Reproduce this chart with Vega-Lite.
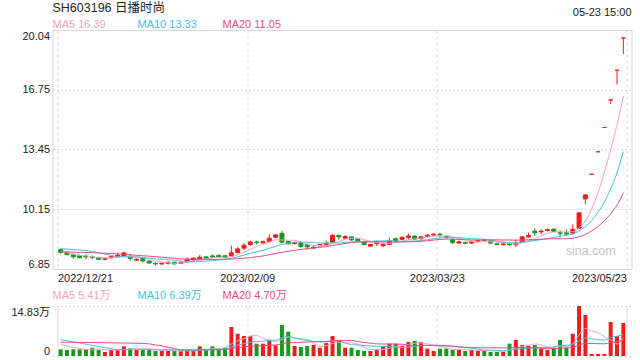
{
  "$schema": "https://vega.github.io/schema/vega-lite/v6.json",
  "autosize": {"type": "pad"},
  "padding": {"left": 10.5, "top": 2, "right": 5.5, "bottom": 5},
  "background": "white",
  "spacing": 0,
  "bounds": "flush",
  "config": {
    "font": "Liberation Sans, Noto Sans CJK SC, sans-serif",
    "view": {"stroke": null},
    "axis": {"labelFont": "Liberation Sans, Noto Sans CJK SC, sans-serif", "labelFontSize": 11, "labelColor": "#222222", "ticks": false, "domain": false, "title": null, "gridColor": "#d9d9d9", "labelPadding": 3},
    "title": {"font": "Liberation Sans, Noto Sans CJK SC, sans-serif", "fontWeight": "normal"},
    "text": {"font": "Liberation Sans, Noto Sans CJK SC, sans-serif"}
  },
  "datasets": {
    "k": [
      {"i":0,"o":7.92,"c":7.76,"h":7.98,"l":7.70,"v":1.98,"m5":7.84,"m10":7.97,"m20":7.80,"vm5":3.4,"vm10":4.9,"vm20":4.1},
      {"i":1,"o":7.77,"c":7.64,"h":7.82,"l":7.60,"v":1.78,"m5":7.75,"m10":7.95,"m20":7.79,"vm5":3.0,"vm10":4.55,"vm20":4.08},
      {"i":2,"o":7.66,"c":7.52,"h":7.70,"l":7.42,"v":1.98,"m5":7.66,"m10":7.92,"m20":7.78,"vm5":2.6,"vm10":4.2,"vm20":4.06},
      {"i":3,"o":7.60,"c":7.47,"h":7.63,"l":7.45,"v":1.98,"m5":7.60,"m10":7.90,"m20":7.77,"vm5":2.2,"vm10":3.85,"vm20":4.04},
      {"i":4,"o":7.56,"c":7.52,"h":7.66,"l":7.38,"v":1.98,"m5":7.58,"m10":7.87,"m20":7.76,"vm5":1.94,"vm10":3.5,"vm20":4.02},
      {"i":5,"o":7.52,"c":7.48,"h":7.60,"l":7.38,"v":2.47,"m5":7.53,"m10":7.82,"m20":7.75,"vm5":2.04,"vm10":3.15,"vm20":4.0},
      {"i":6,"o":7.48,"c":7.37,"h":7.50,"l":7.35,"v":1.78,"m5":7.47,"m10":7.75,"m20":7.73,"vm5":2.04,"vm10":2.8,"vm20":3.97},
      {"i":7,"o":7.38,"c":7.44,"h":7.48,"l":7.33,"v":1.19,"m5":7.46,"m10":7.68,"m20":7.72,"vm5":1.88,"vm10":2.5,"vm20":3.94},
      {"i":8,"o":7.47,"c":7.55,"h":7.58,"l":7.44,"v":1.78,"m5":7.47,"m10":7.60,"m20":7.70,"vm5":1.84,"vm10":2.2,"vm20":3.91},
      {"i":9,"o":7.52,"c":7.60,"h":7.74,"l":7.50,"v":1.78,"m5":7.49,"m10":7.54,"m20":7.68,"vm5":1.80,"vm10":1.87,"vm20":3.88},
      {"i":10,"o":7.56,"c":7.74,"h":7.80,"l":7.54,"v":2.87,"m5":7.54,"m10":7.53,"m20":7.66,"vm5":1.88,"vm10":1.96,"vm20":3.85},
      {"i":11,"o":7.54,"c":7.43,"h":7.70,"l":7.32,"v":2.27,"m5":7.55,"m10":7.51,"m20":7.63,"vm5":1.98,"vm10":2.01,"vm20":3.82},
      {"i":12,"o":7.34,"c":7.39,"h":7.42,"l":7.30,"v":1.78,"m5":7.54,"m10":7.50,"m20":7.61,"vm5":2.10,"vm10":1.99,"vm20":3.78},
      {"i":13,"o":7.42,"c":7.29,"h":7.44,"l":7.20,"v":1.78,"m5":7.49,"m10":7.48,"m20":7.58,"vm5":2.10,"vm10":1.97,"vm20":3.74},
      {"i":14,"o":7.29,"c":7.18,"h":7.31,"l":7.16,"v":1.98,"m5":7.41,"m10":7.45,"m20":7.56,"vm5":2.14,"vm10":1.97,"vm20":3.6},
      {"i":15,"o":7.16,"c":7.13,"h":7.22,"l":7.04,"v":1.48,"m5":7.28,"m10":7.41,"m20":7.53,"vm5":1.86,"vm10":1.87,"vm20":3.3},
      {"i":16,"o":7.13,"c":7.16,"h":7.22,"l":7.08,"v":1.48,"m5":7.23,"m10":7.39,"m20":7.50,"vm5":1.70,"vm10":1.84,"vm20":3.0},
      {"i":17,"o":7.16,"c":7.22,"h":7.28,"l":7.10,"v":1.48,"m5":7.20,"m10":7.37,"m20":7.47,"vm5":1.64,"vm10":1.87,"vm20":2.6},
      {"i":18,"o":7.22,"c":7.13,"h":7.25,"l":7.10,"v":1.48,"m5":7.16,"m10":7.33,"m20":7.44,"vm5":1.58,"vm10":1.84,"vm20":2.2},
      {"i":19,"o":7.15,"c":7.20,"h":7.27,"l":7.13,"v":1.48,"m5":7.17,"m10":7.29,"m20":7.41,"vm5":1.48,"vm10":1.81,"vm20":1.84},
      {"i":20,"o":7.29,"c":7.38,"h":7.48,"l":7.22,"v":1.78,"m5":7.22,"m10":7.25,"m20":7.39,"vm5":1.54,"vm10":1.70,"vm20":1.83},
      {"i":21,"o":7.35,"c":7.45,"h":7.48,"l":7.31,"v":1.48,"m5":7.28,"m10":7.25,"m20":7.38,"vm5":1.54,"vm10":1.62,"vm20":1.81},
      {"i":22,"o":7.42,"c":7.50,"h":7.62,"l":7.42,"v":2.87,"m5":7.33,"m10":7.26,"m20":7.38,"vm5":1.82,"vm10":1.73,"vm20":1.86},
      {"i":23,"o":7.52,"c":7.45,"h":7.55,"l":7.42,"v":1.78,"m5":7.40,"m10":7.28,"m20":7.38,"vm5":1.88,"vm10":1.73,"vm20":1.85},
      {"i":24,"o":7.57,"c":7.52,"h":7.66,"l":7.45,"v":2.87,"m5":7.46,"m10":7.31,"m20":7.38,"vm5":2.16,"vm10":1.82,"vm20":1.89},
      {"i":25,"o":7.60,"c":7.52,"h":7.66,"l":7.48,"v":2.27,"m5":7.49,"m10":7.35,"m20":7.38,"vm5":2.25,"vm10":1.90,"vm20":1.88},
      {"i":26,"o":7.58,"c":7.48,"h":7.62,"l":7.44,"v":2.47,"m5":7.49,"m10":7.39,"m20":7.39,"vm5":2.45,"vm10":2.00,"vm20":1.92},
      {"i":27,"o":7.56,"c":7.74,"h":8.14,"l":7.54,"v":8.60,"m5":7.54,"m10":7.44,"m20":7.40,"vm5":3.60,"vm10":2.71,"vm20":2.29},
      {"i":28,"o":7.76,"c":7.96,"h":8.07,"l":7.70,"v":6.60,"m5":7.64,"m10":7.52,"m20":7.42,"vm5":4.56,"vm10":3.22,"vm20":2.53},
      {"i":29,"o":8.00,"c":8.16,"h":8.27,"l":7.91,"v":5.93,"m5":7.77,"m10":7.62,"m20":7.45,"vm5":5.17,"vm10":3.67,"vm20":2.74},
      {"i":30,"o":8.20,"c":8.34,"h":8.41,"l":8.12,"v":5.93,"m5":7.94,"m10":7.71,"m20":7.48,"vm5":5.91,"vm10":4.08,"vm20":2.89},
      {"i":31,"o":8.34,"c":8.30,"h":8.41,"l":8.20,"v":3.66,"m5":8.10,"m10":7.80,"m20":7.53,"vm5":6.14,"vm10":4.30,"vm20":2.96},
      {"i":32,"o":8.29,"c":8.36,"h":8.41,"l":8.25,"v":3.66,"m5":8.22,"m10":7.88,"m20":7.57,"vm5":5.16,"vm10":4.38,"vm20":3.05},
      {"i":33,"o":8.36,"c":8.55,"h":8.76,"l":8.33,"v":4.65,"m5":8.34,"m10":7.99,"m20":7.64,"vm5":4.77,"vm10":4.66,"vm20":3.20},
      {"i":34,"o":8.60,"c":8.73,"h":8.79,"l":8.55,"v":3.16,"m5":8.46,"m10":8.11,"m20":7.71,"vm5":4.21,"vm10":4.69,"vm20":3.26},
      {"i":35,"o":8.82,"c":8.33,"h":8.96,"l":8.27,"v":9.19,"m5":8.45,"m10":8.20,"m20":7.77,"vm5":4.86,"vm10":5.39,"vm20":3.64},
      {"i":36,"o":8.37,"c":8.24,"h":8.40,"l":8.20,"v":7.22,"m5":8.44,"m10":8.27,"m20":7.83,"vm5":5.58,"vm10":5.86,"vm20":3.93},
      {"i":37,"o":8.25,"c":8.30,"h":8.34,"l":8.22,"v":2.97,"m5":8.43,"m10":8.33,"m20":7.88,"vm5":5.44,"vm10":5.30,"vm20":4.00},
      {"i":38,"o":8.29,"c":8.10,"h":8.36,"l":8.01,"v":2.67,"m5":8.34,"m10":8.34,"m20":7.93,"vm5":5.04,"vm10":4.90,"vm20":4.06},
      {"i":39,"o":8.21,"c":8.07,"h":8.25,"l":7.92,"v":2.97,"m5":8.21,"m10":8.33,"m20":7.97,"vm5":5.00,"vm10":4.61,"vm20":4.14},
      {"i":40,"o":8.01,"c":8.05,"h":8.15,"l":7.96,"v":3.26,"m5":8.15,"m10":8.30,"m20":8.01,"vm5":3.82,"vm10":4.34,"vm20":4.21},
      {"i":41,"o":8.13,"c":8.20,"h":8.24,"l":8.10,"v":2.47,"m5":8.14,"m10":8.29,"m20":8.05,"vm5":2.87,"vm10":4.22,"vm20":4.26},
      {"i":42,"o":8.20,"c":8.27,"h":8.42,"l":8.12,"v":3.86,"m5":8.14,"m10":8.28,"m20":8.08,"vm5":3.05,"vm10":4.24,"vm20":4.31},
      {"i":43,"o":8.31,"c":8.70,"h":8.78,"l":8.31,"v":5.93,"m5":8.26,"m10":8.30,"m20":8.15,"vm5":3.70,"vm10":4.37,"vm20":4.52},
      {"i":44,"o":8.71,"c":8.62,"h":8.73,"l":8.47,"v":4.65,"m5":8.37,"m10":8.29,"m20":8.20,"vm5":4.03,"vm10":4.52,"vm20":4.61},
      {"i":45,"o":8.55,"c":8.64,"h":8.72,"l":8.50,"v":2.47,"m5":8.49,"m10":8.32,"m20":8.26,"vm5":3.88,"vm10":3.85,"vm20":4.62},
      {"i":46,"o":8.62,"c":8.45,"h":8.65,"l":8.42,"v":2.47,"m5":8.54,"m10":8.34,"m20":8.31,"vm5":3.88,"vm10":3.37,"vm20":4.62},
      {"i":47,"o":8.50,"c":8.40,"h":8.52,"l":8.38,"v":1.78,"m5":8.56,"m10":8.35,"m20":8.34,"vm5":3.46,"vm10":3.25,"vm20":4.28},
      {"i":48,"o":8.33,"c":8.20,"h":8.40,"l":8.18,"v":1.48,"m5":8.46,"m10":8.36,"m20":8.35,"vm5":2.57,"vm10":3.13,"vm20":4.02},
      {"i":49,"o":8.11,"c":8.20,"h":8.23,"l":8.10,"v":1.48,"m5":8.38,"m10":8.37,"m20":8.35,"vm5":1.94,"vm10":2.99,"vm20":3.80},
      {"i":50,"o":8.25,"c":8.33,"h":8.41,"l":8.12,"v":1.98,"m5":8.32,"m10":8.40,"m20":8.35,"vm5":1.84,"vm10":2.86,"vm20":3.60},
      {"i":51,"o":8.13,"c":8.22,"h":8.30,"l":8.06,"v":2.87,"m5":8.27,"m10":8.40,"m20":8.35,"vm5":1.92,"vm10":2.90,"vm20":3.56},
      {"i":52,"o":8.21,"c":8.40,"h":8.58,"l":8.18,"v":3.66,"m5":8.27,"m10":8.42,"m20":8.35,"vm5":2.29,"vm10":2.88,"vm20":3.56},
      {"i":53,"o":8.52,"c":8.40,"h":8.58,"l":8.30,"v":3.66,"m5":8.31,"m10":8.39,"m20":8.34,"vm5":2.73,"vm10":2.65,"vm20":3.51},
      {"i":54,"o":8.49,"c":8.60,"h":8.64,"l":8.45,"v":2.97,"m5":8.39,"m10":8.38,"m20":8.34,"vm5":3.03,"vm10":2.48,"vm20":3.50},
      {"i":55,"o":8.58,"c":8.67,"h":8.80,"l":8.48,"v":4.15,"m5":8.46,"m10":8.39,"m20":8.35,"vm5":3.46,"vm10":2.65,"vm20":3.25},
      {"i":56,"o":8.67,"c":8.50,"h":8.70,"l":8.45,"v":4.45,"m5":8.51,"m10":8.39,"m20":8.37,"vm5":3.78,"vm10":2.85,"vm20":3.11},
      {"i":57,"o":8.52,"c":8.63,"h":8.68,"l":8.48,"v":4.15,"m5":8.56,"m10":8.42,"m20":8.38,"vm5":3.88,"vm10":3.09,"vm20":3.17},
      {"i":58,"o":8.65,"c":8.72,"h":8.77,"l":8.60,"v":2.18,"m5":8.62,"m10":8.47,"m20":8.41,"vm5":3.58,"vm10":3.16,"vm20":3.14},
      {"i":59,"o":8.72,"c":8.77,"h":8.82,"l":8.68,"v":1.48,"m5":8.66,"m10":8.52,"m20":8.45,"vm5":3.28,"vm10":3.16,"vm20":3.07},
      {"i":60,"o":8.77,"c":8.72,"h":8.86,"l":8.58,"v":2.18,"m5":8.67,"m10":8.56,"m20":8.48,"vm5":2.89,"vm10":3.18,"vm20":3.02},
      {"i":61,"o":8.66,"c":8.57,"h":8.68,"l":8.55,"v":2.18,"m5":8.68,"m10":8.60,"m20":8.50,"vm5":2.43,"vm10":3.11,"vm20":3.00},
      {"i":62,"o":8.49,"c":8.30,"h":8.52,"l":8.25,"v":1.78,"m5":8.62,"m10":8.59,"m20":8.50,"vm5":1.96,"vm10":2.92,"vm20":2.90},
      {"i":63,"o":8.28,"c":8.35,"h":8.41,"l":8.25,"v":1.78,"m5":8.54,"m10":8.58,"m20":8.48,"vm5":1.88,"vm10":2.73,"vm20":2.69},
      {"i":64,"o":8.32,"c":8.27,"h":8.35,"l":8.23,"v":1.48,"m5":8.44,"m10":8.55,"m20":8.47,"vm5":1.88,"vm10":2.58,"vm20":2.53},
      {"i":65,"o":8.28,"c":8.35,"h":8.41,"l":8.23,"v":1.78,"m5":8.37,"m10":8.52,"m20":8.45,"vm5":1.80,"vm10":2.34,"vm20":2.50},
      {"i":66,"o":8.36,"c":8.42,"h":8.46,"l":8.32,"v":1.48,"m5":8.34,"m10":8.51,"m20":8.45,"vm5":1.66,"vm10":2.05,"vm20":2.45},
      {"i":67,"o":8.48,"c":8.42,"h":8.50,"l":8.40,"v":1.68,"m5":8.36,"m10":8.49,"m20":8.45,"vm5":1.64,"vm10":1.80,"vm20":2.44},
      {"i":68,"o":8.40,"c":8.28,"h":8.42,"l":8.25,"v":1.19,"m5":8.35,"m10":8.45,"m20":8.46,"vm5":1.52,"vm10":1.70,"vm20":2.43},
      {"i":69,"o":8.24,"c":8.20,"h":8.27,"l":8.18,"v":1.19,"m5":8.33,"m10":8.39,"m20":8.46,"vm5":1.46,"vm10":1.67,"vm20":2.41},
      {"i":70,"o":8.19,"c":8.23,"h":8.26,"l":8.16,"v":1.19,"m5":8.31,"m10":8.34,"m20":8.45,"vm5":1.35,"vm10":1.57,"vm20":2.37},
      {"i":71,"o":8.23,"c":8.18,"h":8.30,"l":8.12,"v":3.66,"m5":8.26,"m10":8.30,"m20":8.45,"vm5":1.78,"vm10":1.72,"vm20":2.41},
      {"i":72,"o":8.19,"c":8.28,"h":8.48,"l":8.06,"v":4.75,"m5":8.23,"m10":8.30,"m20":8.44,"vm5":2.40,"vm10":2.02,"vm20":2.47},
      {"i":73,"o":8.33,"c":8.62,"h":8.67,"l":8.30,"v":3.26,"m5":8.30,"m10":8.33,"m20":8.45,"vm5":2.81,"vm10":2.17,"vm20":2.45},
      {"i":74,"o":8.62,"c":8.70,"h":8.86,"l":8.58,"v":2.97,"m5":8.40,"m10":8.37,"m20":8.46,"vm5":3.17,"vm10":2.32,"vm20":2.45},
      {"i":75,"o":8.94,"c":8.85,"h":9.10,"l":8.67,"v":3.26,"m5":8.53,"m10":8.42,"m20":8.47,"vm5":3.58,"vm10":2.46,"vm20":2.40},
      {"i":76,"o":8.90,"c":8.94,"h":9.04,"l":8.77,"v":2.27,"m5":8.68,"m10":8.47,"m20":8.49,"vm5":3.30,"vm10":2.54,"vm20":2.29},
      {"i":77,"o":8.97,"c":9.02,"h":9.09,"l":8.93,"v":1.78,"m5":8.83,"m10":8.53,"m20":8.51,"vm5":2.71,"vm10":2.55,"vm20":2.18},
      {"i":78,"o":9.05,"c":8.92,"h":9.07,"l":8.90,"v":2.47,"m5":8.89,"m10":8.59,"m20":8.52,"vm5":2.55,"vm10":2.68,"vm20":2.19},
      {"i":79,"o":8.85,"c":8.80,"h":9.00,"l":8.60,"v":4.75,"m5":8.91,"m10":8.65,"m20":8.52,"vm5":2.91,"vm10":3.04,"vm20":2.35},
      {"i":80,"o":8.85,"c":8.78,"h":9.04,"l":8.67,"v":2.47,"m5":8.89,"m10":8.71,"m20":8.52,"vm5":2.75,"vm10":3.16,"vm20":2.37},
      {"i":81,"o":8.83,"c":9.04,"h":9.32,"l":8.74,"v":6.60,"m5":8.91,"m10":8.79,"m20":8.55,"vm5":3.61,"vm10":3.46,"vm20":2.59},
      {"i":82,"o":9.10,"c":9.95,"h":9.96,"l":9.07,"v":14.83,"m5":9.10,"m10":8.96,"m20":8.63,"vm5":6.22,"vm10":4.47,"vm20":3.24},
      {"i":83,"o":10.72,"c":10.94,"h":10.94,"l":10.43,"v":12.16,"m5":9.50,"m10":9.19,"m20":8.76,"vm5":8.16,"vm10":5.36,"vm20":3.76},
      {"i":84,"o":12.08,"c":12.08,"h":12.08,"l":12.08,"v":0.59,"m5":10.16,"m10":9.53,"m20":8.95,"vm5":7.33,"vm10":5.12,"vm20":3.72},
      {"i":85,"o":13.32,"c":13.32,"h":13.32,"l":13.32,"v":0.59,"m5":11.07,"m10":9.98,"m20":9.20,"vm5":6.95,"vm10":4.85,"vm20":3.66},
      {"i":86,"o":14.66,"c":14.66,"h":14.66,"l":14.66,"v":0.59,"m5":12.19,"m10":10.55,"m20":9.51,"vm5":5.75,"vm10":4.68,"vm20":3.61},
      {"i":87,"o":16.18,"c":16.18,"h":16.18,"l":15.96,"v":10.08,"m5":13.44,"m10":11.27,"m20":9.90,"vm5":4.80,"vm10":5.51,"vm20":4.03},
      {"i":88,"o":17.82,"c":17.82,"h":17.82,"l":17.03,"v":5.93,"m5":14.81,"m10":12.16,"m20":10.38,"vm5":3.56,"vm10":5.86,"vm20":4.27},
      {"i":89,"o":19.60,"c":19.60,"h":19.60,"l":18.72,"v":9.79,"m5":16.39,"m10":13.33,"m20":11.05,"vm5":5.41,"vm10":6.39,"vm20":4.70}
    ],
    "pl": [{"k":"MA5","t":"MA5 16.39"},{"k":"MA10","t":"MA10 13.33"},{"k":"MA20","t":"MA20 11.05"}],
    "vl": [{"k":"MA5","t":"MA5 5.41万"},{"k":"MA10","t":"MA10 6.39万"},{"k":"MA20","t":"MA20 4.70万"}],
    "wm": [{"w": "sina.com"}]
  },
  "vconcat": [
    {
      "width": 170,
      "height": 11,
      "data": {"name": "pl"},
      "title": {"text": "SH603196 日播时尚", "anchor": "start", "frame": "group", "fontSize": 12.5, "color": "#1e1e1e", "offset": 4},
      "mark": {"type": "text", "align": "left", "baseline": "middle", "fontSize": 11},
      "encoding": {
        "x": {"field": "k", "type": "nominal", "scale": {"type": "point", "domain": ["MA5","MA10","MA20"], "padding": 0}, "axis": null},
        "text": {"field": "t"},
        "color": {"field": "k", "type": "nominal", "scale": {"domain": ["MA5","MA10","MA20"], "range": ["#f7a1be","#3fc3df","#ef477f"]}, "legend": null}
      }
    },
    {
      "width": 579,
      "height": 239,
      "view": {"stroke": "#d6d6d6"},
      "title": {"text": "05-23 15:00", "anchor": "end", "frame": "group", "fontSize": 11, "color": "#222222", "offset": 12},
      "layer": [
        {
          "data": {"name": "wm"},
          "mark": {"type": "text", "align": "right", "baseline": "middle", "fontSize": 12.5, "color": "#c4c4c4"},
          "encoding": {
            "text": {"field": "w"},
            "x": {"datum": 87.8, "type": "quantitative", "scale": {"domain": [-0.5, 89.5], "nice": false, "zero": false},
              "axis": {"values": [-0.5, 29.5, 59.5, 89.5], "labelExpr": "datum.value < 0 ? '2022/12/21' : datum.value < 30 ? '2023/02/09' : datum.value < 60 ? '2023/03/23' : '2023/05/23'", "labelFlush": true,
                "labelAlign": {"condition": [{"test": "datum.value < 0", "value": "left"}, {"test": "datum.value > 89", "value": "right"}], "value": "center"},
                "grid": true, "gridDash": [3,3], "labelPadding": 3}},
            "y": {"datum": 7.85, "type": "quantitative", "scale": {"domain": [6.85, 20.04], "nice": false, "zero": false},
              "axis": {"values": [6.85, 10.15, 13.45, 16.75, 20.04], "format": ".2f", "labelFlush": true, "grid": true, "gridDash": [2,2]}}
          }
        },
        {
          "data": {"name": "k"},
          "mark": {"type": "rule", "strokeWidth": 1},
          "encoding": {
            "x": {"field": "i", "type": "quantitative"},
            "y": {"field": "l", "type": "quantitative"},
            "y2": {"field": "h"},
            "color": {"condition": {"test": "datum.c >= datum.o", "value": "#ee1d1d"}, "value": "#159a1c"}
          }
        },
        {
          "data": {"name": "k"},
          "mark": {"type": "bar", "size": 4, "strokeWidth": 1},
          "encoding": {
            "x": {"field": "i", "type": "quantitative"},
            "y": {"field": "o", "type": "quantitative"},
            "y2": {"field": "c"},
            "color": {"condition": {"test": "datum.c >= datum.o", "value": "#ee1d1d"}, "value": "#159a1c"},
            "stroke": {"condition": {"test": "datum.c >= datum.o", "value": "#ee1d1d"}, "value": "#159a1c"}
          }
        },
        {"data": {"name": "k"}, "mark": {"type": "line", "color": "#f7a1be", "strokeWidth": 1, "interpolate": "monotone"}, "encoding": {"x": {"field": "i", "type": "quantitative"}, "y": {"field": "m5", "type": "quantitative"}}},
        {"data": {"name": "k"}, "mark": {"type": "line", "color": "#3fc3df", "strokeWidth": 1, "interpolate": "monotone"}, "encoding": {"x": {"field": "i", "type": "quantitative"}, "y": {"field": "m10", "type": "quantitative"}}},
        {"data": {"name": "k"}, "mark": {"type": "line", "color": "#ef477f", "strokeWidth": 1, "interpolate": "monotone"}, "encoding": {"x": {"field": "i", "type": "quantitative"}, "y": {"field": "m20", "type": "quantitative"}}}
      ]
    },
    {
      "width": 170,
      "height": 36.5,
      "data": {"name": "vl"},
      "mark": {"type": "text", "align": "left", "baseline": "middle", "fontSize": 11},
      "encoding": {
        "x": {"field": "k", "type": "nominal", "scale": {"type": "point", "domain": ["MA5","MA10","MA20"], "padding": 0}, "axis": null},
        "y": {"datum": "r", "type": "nominal", "scale": {"type": "band", "paddingInner": 0, "paddingOuter": 0.42, "align": 1}, "axis": null},
        "text": {"field": "t"},
        "color": {"field": "k", "type": "nominal", "scale": {"domain": ["MA5","MA10","MA20"], "range": ["#f7a1be","#3fc3df","#ef477f"]}, "legend": null}
      }
    },
    {
      "width": 579,
      "height": 50,
      "data": {"name": "k"},
      "encoding": {
        "x": {"field": "i", "type": "quantitative", "scale": {"domain": [-0.5, 89.5], "nice": false, "zero": false},
          "axis": {"values": [-0.5, 29.5, 59.5, 89.5], "labels": false, "grid": true, "gridDash": {"condition": {"test": "datum.value > 89 || datum.value < 0", "value": []}, "value": [3,3]}}}
      },
      "layer": [
        {
          "mark": {"type": "bar", "size": 4},
          "encoding": {
            "y": {"field": "v", "type": "quantitative", "scale": {"domain": [0, 14.83], "nice": false},
              "axis": {"values": [0, 14.83], "labelFlush": true, "labelExpr": "datum.value > 0 ? '14.83万' : '0'", "grid": true, "gridDash": [2,2]}},
            "color": {"condition": {"test": "datum.c >= datum.o", "value": "#ee1d1d"}, "value": "#159a1c"}
          }
        },
        {"mark": {"type": "line", "color": "#f7a1be", "strokeWidth": 1, "interpolate": "monotone"}, "encoding": {"y": {"field": "vm5", "type": "quantitative"}}},
        {"mark": {"type": "line", "color": "#3fc3df", "strokeWidth": 1, "interpolate": "monotone"}, "encoding": {"y": {"field": "vm10", "type": "quantitative"}}},
        {"mark": {"type": "line", "color": "#ef477f", "strokeWidth": 1, "interpolate": "monotone"}, "encoding": {"y": {"field": "vm20", "type": "quantitative"}}}
      ]
    }
  ]
}
